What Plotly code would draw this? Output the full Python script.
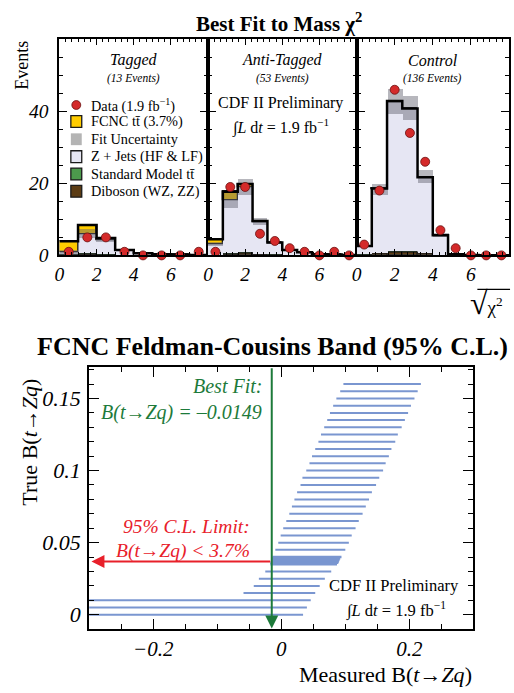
import numpy as np
import plotly.graph_objects as go

SERIF = "Liberation Serif"
W, H = 514, 693

# ---------------- top: Best fit to mass chi2 ----------------
tag_data = [1, 5, 5, 1, 0, 0, 0, 1]
tag_dib = [0.05, 0.15, 0.1, 0.05, 0.02, 0.01, 0.0, 0.0]
tag_tt = [0.15, 0.35, 0.2, 0.05, 0.02, 0.01, 0.01, 0.0]
tag_zj = [0.6, 5.4, 4.0, 1.3, 0.55, 0.28, 0.14, 0.1]
tag_fcnc = [3.1, 2.55, 0.5, 0.1, 0.03, 0.0, 0.0, 0.0]
tag_err = [0.7, 1.2, 0.6, 0.3, 0.15, 0.1, 0.05, 0.05]

anti_data = [1, 19, 19, 6, 4, 2, 1, 0, 1, 0]
anti_dib = [0.05, 0.4, 0.45, 0.3, 0.1, 0.05, 0.02, 0.01, 0.0, 0.0]
anti_tt = [0.05, 0.2, 0.3, 0.1, 0.05, 0.02, 0.01, 0.0, 0.0, 0.0]
anti_zj = [2.9, 14.6, 18.15, 8.9, 3.4, 1.41, 0.87, 0.34, 0.25, 0.1]
anti_fcnc = [1.5, 2.5, 0.9, 0.25, 0.05, 0.02, 0.0, 0.0, 0.0, 0.0]
anti_err = [0.5, 2.05, 2.35, 1.1, 0.4, 0.2, 0.1, 0.05, 0.05, 0.02]

ctl_data = [3, 18, 46, 34, 26, 7, 2, 0, 0, 0]
ctl_dib = [0.1, 0.5, 0.9, 0.9, 0.45, 0.1, 0.02, 0.0, 0.0, 0.0]
ctl_tt = [0.05, 0.2, 0.35, 0.3, 0.15, 0.03, 0.01, 0.0, 0.0, 0.0]
ctl_zj = [2.43, 17.55, 41.35, 39.55, 21.08, 5.47, 0.27, 0.1, 0.05, 0.02]
ctl_fcnc = [0.02, 0.3, 0.3, 0.05, 0.02, 0.0, 0.0, 0.0, 0.0, 0.0]
ctl_err = [0.3, 1.45, 3.4, 3.3, 1.8, 0.6, 0.1, 0.05, 0.02, 0.01]

panel_names = ["Tagged", "Anti-Tagged", "Control"]
panel_counts = ["(13 Events)", "(53 Events)", "(136 Events)"]
X_MAX = 8.0

# ---------------- bottom: Feldman-Cousins band ----------------
fc_true = [0.000, 0.005, 0.010, 0.015, 0.020, 0.025, 0.030,
           0.045, 0.050, 0.055, 0.060, 0.065, 0.070, 0.075, 0.080,
           0.085, 0.090, 0.095, 0.100, 0.105, 0.110, 0.115, 0.120,
           0.125, 0.130, 0.135, 0.140, 0.145, 0.150, 0.155, 0.160]
fc_lo = [-0.40, -0.40, -0.40, -0.059, -0.043, -0.035, -0.025,
         -0.0093, -0.0047, -0.001, 0.003, 0.0078, 0.0125, 0.0166, 0.0205,
         0.0247, 0.030, 0.033, 0.039, 0.044, 0.048, 0.053, 0.058,
         0.062, 0.067, 0.0717, 0.076, 0.081, 0.086, 0.092, 0.097]
fc_hi = [0.034, 0.040, 0.046, 0.053, 0.060, 0.068, 0.078,
         0.100, 0.1055, 0.110, 0.116, 0.121, 0.127, 0.132, 0.137,
         0.1415, 0.148, 0.153, 0.159, 0.163, 0.168, 0.172, 0.178,
         0.182, 0.188, 0.193, 0.198, 0.2025, 0.208, 0.213, 0.218]
# finely scanned region near the limit
fcf_true = [0.035, 0.036, 0.037, 0.038, 0.039, 0.040]
fcf_lo = [-0.017, -0.017, -0.016, -0.016, -0.015, -0.014]
fcf_hi = [0.087, 0.089, 0.090, 0.091, 0.092, 0.094]

BEST_FIT = -0.0149
LIMIT = 0.037

C_FCNC = "#ffcc00"
C_ZJ = "#e6e6f3"
C_TT = "#4c9a4c"
C_DIB = "#5c3c14"
C_BAND = "rgba(95,95,108,0.45)"
C_DATA = "#d42a2a"
C_FC = "#7a96d0"
C_GREEN = "#1d7a3a"
C_RED = "#e8202a"


def px(x):
    return x / W


def py(y):
    return 1 - y / H


fig = go.Figure()

panels = [
    (tag_data, tag_dib, tag_tt, tag_zj, tag_fcnc, tag_err, "x", "y"),
    (anti_data, anti_dib, anti_tt, anti_zj, anti_fcnc, anti_err, "x2", "y2"),
    (ctl_data, ctl_dib, ctl_tt, ctl_zj, ctl_fcnc, ctl_err, "x3", "y3"),
]

for data, dib, tt, zj, fcnc, err, xa, ya in panels:
    nb = len(data)
    w = X_MAX / nb
    edges = np.arange(nb + 1) * w
    centers = edges[:-1] + w / 2
    base = np.zeros(nb)
    for comp, col, lw in [(dib, C_DIB, 1), (tt, C_TT, 1), (zj, C_ZJ, 0), (fcnc, C_FCNC, 1.3)]:
        comp = np.array(comp, dtype=float)
        fig.add_trace(go.Bar(x=centers, y=comp, base=base, width=w,
                             marker=dict(color=col, line=dict(color="#1a1a1a", width=lw)),
                             xaxis=xa, yaxis=ya, hoverinfo="skip"))
        base = base + comp
    sm = np.array(dib) + np.array(tt) + np.array(zj)
    e = np.array(err)
    fig.add_trace(go.Bar(x=centers, y=2 * e, base=sm - e, width=w,
                         marker=dict(color=C_BAND, line=dict(width=0)),
                         xaxis=xa, yaxis=ya, hoverinfo="skip"))
    tot = sm + np.array(fcnc)
    fig.add_trace(go.Scatter(x=edges, y=np.append(tot, tot[-1]), mode="lines",
                             line=dict(color="black", width=2.5, shape="hv"),
                             xaxis=xa, yaxis=ya, hoverinfo="skip"))
    fig.add_trace(go.Scatter(x=centers, y=data, mode="markers",
                             marker=dict(color=C_DATA, size=9, line=dict(color="#6a1010", width=0.8)),
                             cliponaxis=False, xaxis=xa, yaxis=ya))

# Feldman-Cousins band
bx, by = [], []
for t, lo, hi in zip(fc_true, fc_lo, fc_hi):
    bx += [lo, hi, None]
    by += [t, t, None]
fig.add_trace(go.Scatter(x=bx, y=by, mode="lines", line=dict(color=C_FC, width=2),
                         xaxis="x4", yaxis="y4", hoverinfo="skip"))
fx, fy = [], []
for t, lo, hi in zip(fcf_true, fcf_lo, fcf_hi):
    fx += [lo, hi, None]
    fy += [t, t, None]
fig.add_trace(go.Scatter(x=fx, y=fy, mode="lines", line=dict(color=C_FC, width=2.5),
                         xaxis="x4", yaxis="y4", hoverinfo="skip"))

tickfont_top = dict(family=SERIF, size=19.5, color="black", style="italic")
tickfont_bot = dict(family=SERIF, size=21, color="black", style="italic")

# top axes
top_dom_y = [py(259.5), py(40)]
x_doms = [[px(55), px(205)], [px(205), px(355)], [px(355), px(509)]]
third = np.arange(0, X_MAX + 1e-9, 2 / 6)
minor_x = [float(v) for v in third if abs(v / 2 - round(v / 2)) > 1e-6]
axes = {}
for i, (xa, ya) in enumerate([("xaxis", "yaxis"), ("xaxis2", "yaxis2"), ("xaxis3", "yaxis3")]):
    yname = "y" if i == 0 else f"y{i+1}"
    xname = "x" if i == 0 else f"x{i+1}"
    tv = [0, 2, 4, 6, 8]
    tt_ = ["0", "2", "4", "6", "8" if i == 2 else ""]
    axes[xa] = dict(domain=x_doms[i], range=[0, X_MAX], anchor=yname,
                    tickmode="array", tickvals=tv, ticktext=tt_,
                    ticks="inside", ticklen=6, tickwidth=1, tickcolor="black",
                    minor=dict(tickmode="array", tickvals=minor_x, ticks="inside",
                               ticklen=3, tickwidth=1, tickcolor="black"),
                    showline=True, linewidth=2, linecolor="black", mirror="ticks",
                    showgrid=False, zeroline=False, tickfont=tickfont_top, fixedrange=True)
    axes[ya] = dict(domain=top_dom_y, range=[0, 60], anchor=xname,
                    tickmode="array", tickvals=[0, 20, 40, 60], ticktext=["0", "20", "40", ""],
                    showticklabels=(i == 0), ticklabelstandoff=5,
                    ticks="inside", ticklen=8, tickwidth=1, tickcolor="black",
                    minor=dict(dtick=5, ticks="inside", ticklen=4, tickwidth=1, tickcolor="black"),
                    showline=True, linewidth=2, linecolor="black", mirror="ticks",
                    showgrid=False, zeroline=False, tickfont=tickfont_top, fixedrange=True)

axes["xaxis4"] = dict(domain=[px(85), px(473)], range=[-0.3, 0.3], anchor="y4",
                      tickmode="array", tickvals=[-0.2, 0, 0.2], ticktext=["\u22120.2", "0", "0.2"],
                      ticks="inside", ticklen=10, tickwidth=1, tickcolor="black",
                      minor=dict(dtick=0.05, ticks="inside", ticklen=5, tickwidth=1, tickcolor="black"),
                      showline=True, linewidth=2, linecolor="black", mirror="ticks",
                      showgrid=False, zeroline=False, tickfont=tickfont_bot, fixedrange=True)
axes["yaxis4"] = dict(domain=[py(639.3), py(372.7)], range=[-0.01, 0.172], anchor="x4",
                      tickmode="array", tickvals=[0, 0.05, 0.1, 0.15], ticktext=["0", "0.05", "0.1", "0.15"],
                      ticks="inside", ticklen=10, tickwidth=1, tickcolor="black", ticklabelstandoff=2,
                      minor=dict(dtick=0.01, ticks="inside", ticklen=5, tickwidth=1, tickcolor="black"),
                      showline=True, linewidth=2, linecolor="black", mirror="ticks",
                      showgrid=False, zeroline=False, tickfont=dict(tickfont_bot, size=22), fixedrange=True)

ann = []


def txt(x, y, s, size, color="black", xanchor="center", yanchor="middle", angle=0):
    ann.append(dict(x=px(x), y=py(y), xref="paper", yref="paper", text=s, showarrow=False,
                    xanchor=xanchor, yanchor=yanchor, textangle=angle,
                    font=dict(family=SERIF, size=size, color=color)))


# titles
txt(277, 23, "<b>Best Fit to Mass \u03c7<sup>2</sup></b>", 21)
txt(17, 66, "Events", 18, angle=-90)
txt(270, 352, "<b>FCNC Feldman-Cousins Band (95% C.L.)</b>", 26)
txt(25, 449, "True B(<i>t</i>\u2192<i>Zq</i>)", 22, angle=-90)
txt(474, 685, "Measured B(<i>t</i>\u2192<i>Zq</i>)", 22, xanchor="right")

# sqrt chi2
txt(486, 288, "<span style=\"font-size:32px\">\u221a</span>\u03c7<sup>2</sup>", 19, yanchor="top")

# panel labels
for cx, name, cnt in zip([130, 280, 432], panel_names, panel_counts):
    txt(cx, 61, f"<i>{name}</i>", 16)
    txt(cx, 80, f"<i>{cnt}</i>", 11.5)

# CDF text top
txt(278, 115.5, "CDF II Preliminary", 16, yanchor="bottom")
txt(278, 115.5, "\u222b<i>L</i> d<i>t</i> = 1.9 fb<sup>\u22121</sup>", 16, yanchor="top")

# legend
leg_labels = ["Data (1.9 fb<sup>\u22121</sup>)", "FCNC tt\u0304 (3.7%)", "Fit Uncertainty",
              "Z + Jets (HF &amp; LF)", "Standard Model tt\u0304", "Diboson (WZ, ZZ)"]
leg_y = [106.7, 123.5, 141.5, 159.2, 176.8, 194.4]
for lab, ly in zip(leg_labels, leg_y):
    txt(85, ly, lab, 14.3, xanchor="left")

shapes = []
shapes.append(dict(type="circle", xref="paper", yref="paper",
                   x0=px(67.5), x1=px(76.5), y0=py(111.2), y1=py(102.2),
                   fillcolor=C_DATA, line=dict(color="#6a1010", width=0.8)))
for col, ly, lw in [(C_FCNC, leg_y[1], 1.3), ("#b4b4b4", leg_y[2], 0), (C_ZJ, leg_y[3], 1.3),
                    (C_TT, leg_y[4], 1.3), (C_DIB, leg_y[5], 1.3)]:
    shapes.append(dict(type="rect", xref="paper", yref="paper",
                       x0=px(66.5), x1=px(77.5), y0=py(ly + 6), y1=py(ly - 6),
                       fillcolor=col, line=dict(color="#1a1a1a", width=lw)))
# overline of sqrt
shapes.append(dict(type="line", xref="paper", yref="paper", x0=px(477), x1=px(510),
                   y0=py(294), y1=py(294), line=dict(color="black", width=1.2)))

# bottom panel texts
txt(262, 405, "<i>Best Fit:</i>", 20, color=C_GREEN, xanchor="right", yanchor="bottom")
txt(262, 405, f"<i>B(t\u2192Zq) = \u2013{abs(BEST_FIT):.4f}</i>", 20, color=C_GREEN,
    xanchor="right", yanchor="top")
txt(249, 548, "<i>95% C.L. Limit:</i>", 19.5, color=C_RED, xanchor="right", yanchor="bottom")
txt(249, 547, f"<i>B(t\u2192Zq) &lt; {LIMIT*100:.1f}%</i>", 19.5, color=C_RED,
    xanchor="right", yanchor="top")
txt(393, 607, "CDF II Preliminary", 16.5, yanchor="bottom")
txt(395, 607, "\u222b<i>L</i> d<i>t</i> = 1.9 fb<sup>\u22121</sup>", 16.5, yanchor="top")

# arrows
ann.append(dict(x=BEST_FIT, y=-0.0095, ax=BEST_FIT, ay=0.172, xref="x4", yref="y4",
                axref="x4", ayref="y4", text="", showarrow=True, arrowhead=2, arrowsize=1.3,
                arrowwidth=2, arrowcolor=C_GREEN))
ann.append(dict(x=-0.2965, y=LIMIT, ax=BEST_FIT, ay=LIMIT, xref="x4", yref="y4",
                axref="x4", ayref="y4", text="", showarrow=True, arrowhead=2, arrowsize=1.3,
                arrowwidth=2, arrowcolor=C_RED))

fig.update_layout(width=W, height=H, margin=dict(l=0, r=0, t=0, b=0),
                  paper_bgcolor="white", plot_bgcolor="white", showlegend=False,
                  barmode="overlay", bargap=0, annotations=ann, shapes=shapes,
                  font=dict(family=SERIF, color="black"), **axes)

fig.write_html("out.html")
